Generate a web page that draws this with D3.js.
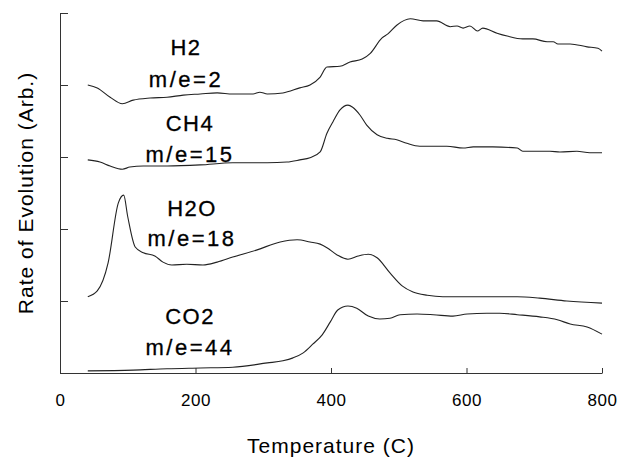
<!DOCTYPE html>
<html>
<head>
<meta charset="utf-8">
<script src="https://cdn.jsdelivr.net/npm/d3@7"></script>
<style>
  html, body { margin: 0; padding: 0; background: #fff; }
  svg { display: block; }
  text { font-family: "Liberation Sans", Arial, sans-serif; fill: #000; }
</style>
</head>
<body>
<svg id="chart" width="620" height="457"></svg>
<script>
// ---- data (Temperature in C, rate of evolution in arbitrary, offset units) ----
const xTicks = [0, 200, 400, 600, 800];
const yTicks = [0, 1, 2, 3, 4, 5];

const h2Temp = [41, 55, 74, 92, 108, 133, 158, 182, 207, 232, 255, 285, 295, 306, 329, 354, 369, 384, 394, 413, 428, 446, 458, 475, 484, 497, 517, 536, 556, 576, 586, 595, 605, 616, 624, 645, 660, 683, 698, 719, 728, 735, 753, 778, 794, 800];
const h2Rate = [4.00, 3.96, 3.83, 3.74, 3.79, 3.82, 3.83, 3.86, 3.875, 3.89, 3.875, 3.875, 3.90, 3.875, 3.89, 3.96, 4.00, 4.11, 4.25, 4.26, 4.32, 4.36, 4.44, 4.65, 4.71, 4.83, 4.92, 4.89, 4.89, 4.81, 4.82, 4.79, 4.82, 4.75, 4.79, 4.72, 4.68, 4.64, 4.64, 4.60, 4.60, 4.57, 4.57, 4.53, 4.51, 4.47];

const ch4Temp = [41, 59, 74, 92, 103, 123, 158, 207, 255, 306, 335, 354, 369, 384, 394, 403, 413, 425, 432, 443, 453, 468, 483, 497, 512, 531, 551, 571, 595, 610, 639, 675, 683, 723, 738, 763, 782, 800];
const ch4Rate = [2.96, 2.93, 2.875, 2.83, 2.86, 2.875, 2.875, 2.89, 2.92, 2.92, 2.93, 2.96, 2.99, 3.07, 3.33, 3.49, 3.65, 3.72, 3.69, 3.58, 3.44, 3.31, 3.26, 3.24, 3.19, 3.15, 3.15, 3.15, 3.125, 3.14, 3.14, 3.125, 3.08, 3.08, 3.07, 3.08, 3.06, 3.06];

const h2oTemp = [41, 55, 71, 86, 94, 100, 111, 123, 140, 152, 165, 187, 211, 232, 255, 291, 325, 350, 369, 384, 394, 409, 425, 440, 455, 468, 487, 505, 521, 542, 565, 601, 635, 675, 708, 748, 800];
const h2oRate = [1.06, 1.14, 1.53, 2.36, 2.47, 2.17, 1.75, 1.67, 1.625, 1.54, 1.50, 1.51, 1.50, 1.54, 1.61, 1.71, 1.82, 1.85, 1.82, 1.79, 1.74, 1.64, 1.58, 1.625, 1.65, 1.60, 1.39, 1.21, 1.125, 1.08, 1.06, 1.06, 1.06, 1.06, 1.04, 1.00, 0.97];

const co2Temp = [41, 108, 158, 207, 255, 306, 329, 344, 359, 373, 387, 399, 410, 425, 438, 455, 472, 487, 502, 527, 551, 580, 601, 630, 649, 675, 708, 734, 753, 778, 800];
const co2Rate = [0.03, 0.04, 0.06, 0.07, 0.08, 0.14, 0.17, 0.21, 0.28, 0.40, 0.53, 0.71, 0.875, 0.93, 0.90, 0.79, 0.75, 0.76, 0.81, 0.82, 0.81, 0.79, 0.82, 0.83, 0.83, 0.81, 0.78, 0.74, 0.68, 0.64, 0.54];

const seriesNames = ["H2", "CH4", "H2O", "CO2"];
const seriesMasses = ["m/e=2", "m/e=15", "m/e=18", "m/e=44"];

// ---- layout ----
const svg = d3.select("#chart");
const x = d3.scaleLinear().domain([0, 800]).range([60, 602]);
const y = d3.scaleLinear().domain([0, 5]).range([373, 13]);

const series = [
  {name: seriesNames[0], mass: seriesMasses[0], t: h2Temp, r: h2Rate, lx: 186, ly1: 55, ly2: 87},
  {name: seriesNames[1], mass: seriesMasses[1], t: ch4Temp, r: ch4Rate, lx: 190, ly1: 131, ly2: 162},
  {name: seriesNames[2], mass: seriesMasses[2], t: h2oTemp, r: h2oRate, lx: 192, ly1: 216, ly2: 246},
  {name: seriesNames[3], mass: seriesMasses[3], t: co2Temp, r: co2Rate, lx: 190, ly1: 324, ly2: 355}
];

// axes
const xAxis = d3.axisBottom(x).tickValues(xTicks).tickSizeInner(-5).tickSizeOuter(0).tickPadding(21);
const gx = svg.append("g").attr("transform", "translate(0,373)").call(xAxis);
gx.selectAll("text").style("font-size", "17px").attr("fill", "#000").style("letter-spacing", "0.5px");
gx.select(".domain").attr("stroke", "#333");
gx.selectAll(".tick line").attr("stroke", "#333");

const yAxis = d3.axisRight(y).tickValues(yTicks).tickSizeInner(8).tickSizeOuter(0).tickFormat("");
const gy = svg.append("g").attr("transform", "translate(60,0)").call(yAxis);
gy.select(".domain").attr("stroke", "#333");
gy.selectAll(".tick line").attr("stroke", "#333");

// lines
const line = d3.line()
  .x(d => x(d[0]))
  .y(d => y(d[1]))
  .curve(d3.curveMonotoneX);

series.forEach(s => {
  const pts = s.t.map((t, i) => [t, s.r[i]]);
  svg.append("path")
    .datum(pts)
    .attr("d", line)
    .attr("fill", "none")
    .attr("stroke", "#222")
    .attr("stroke-width", 1.1);
  svg.append("text")
    .attr("x", s.lx).attr("y", s.ly1)
    .attr("text-anchor", "middle")
    .style("font-size", "22px")
    .style("letter-spacing", "1.5px")
    .style("stroke", "#000").style("stroke-width", "0.3px")
    .text(s.name);
  svg.append("text")
    .attr("x", s.lx).attr("y", s.ly2)
    .attr("text-anchor", "middle")
    .style("font-size", "22px")
    .style("letter-spacing", "2.5px")
    .style("stroke", "#000").style("stroke-width", "0.3px")
    .text(s.mass);
});

// axis titles
svg.append("text")
  .attr("x", 331).attr("y", 453)
  .attr("text-anchor", "middle")
  .style("font-size", "21px")
  .style("letter-spacing", "1px")
  .text("Temperature (C)");

svg.append("text")
  .attr("transform", "translate(33,193) rotate(-90)")
  .attr("text-anchor", "middle")
  .style("font-size", "21px")
  .style("letter-spacing", "1px")
  .text("Rate of Evolution (Arb.)");
</script>
</body>
</html>
